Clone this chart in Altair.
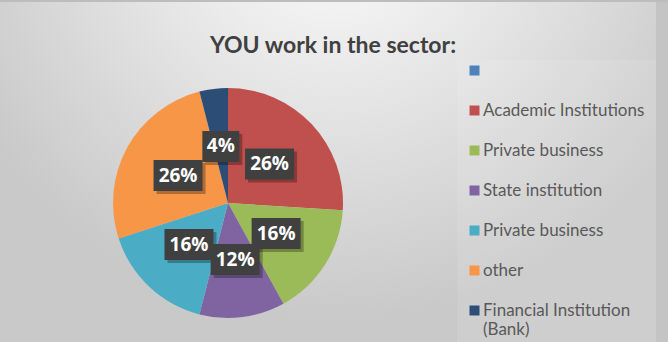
import altair as alt
import pandas as pd

categories = [" ", "Academic Institutions", "Private business", "State institution",
              "Private business ", "other", "Financial Institution (Bank)"]
values = [0, 26, 16, 12, 16, 26, 4]
colors = ["#4F81BD", "#C0504D", "#9BBB59", "#8064A2", "#4BACC6", "#F79646", "#2C4D75"]
title_text = ["YOU work in the sector:"]

df = pd.DataFrame({"cat": categories, "value": values, "idx": list(range(len(categories)))})
one = pd.DataFrame({"a": [0]})
tdf = pd.DataFrame({"t": title_text})

W = H = 230
R = 115
LABEL_R = 57
PL, PT = 113, 88
TOTAL_W, TOTAL_H = 668, 342

xs = alt.Scale(domain=[-R, R], nice=False, zero=False)
ys = alt.Scale(domain=[-R, R], nice=False, zero=False)

grad = {
    "gradient": "radial",
    "x1": 0.5, "y1": 0.1, "r1": 0,
    "x2": 0.5, "y2": 0.1, "r2": 0.62,
    "stops": [{"offset": 0, "color": "#ffffff"}, {"offset": 1, "color": "#c9c9c9"}],
}

bg = alt.Chart(one).mark_rect(fill=grad).encode(
    x=alt.value(-PL), x2=alt.value(TOTAL_W - PL),
    y=alt.value(-PT), y2=alt.value(TOTAL_H - PT),
)
panel = alt.Chart(one).mark_rect(fill="#ffffff", opacity=0.1).encode(
    x=alt.value(457 - PL), x2=alt.value(656 - PL),
    y=alt.value(60 - PT), y2=alt.value(TOTAL_H - PT),
)
strip = alt.Chart(one).mark_rect(fill="#c4c4c4").encode(
    x=alt.value(656 - PL), x2=alt.value(TOTAL_W - PL),
    y=alt.value(-PT), y2=alt.value(TOTAL_H - PT),
)
topline = alt.Chart(one).mark_rect(fill="#bdbdbd").encode(
    x=alt.value(-PL), x2=alt.value(TOTAL_W - PL),
    y=alt.value(-PT), y2=alt.value(2 - PT),
)

title = alt.Chart(tdf).mark_text(font="Lato", fontSize=23, fontWeight="bold", color="#404040",
                                 align="center", baseline="alphabetic").encode(
    x=alt.value(333 - PL), y=alt.value(53 - PT), text="t:N",
)

legend = alt.Legend(
    title=None, orient="none", legendX=353, legendY=-26,
    symbolType="square", symbolSize=100, symbolStrokeWidth=0,
    labelFont="Lato", labelFontSize=17, labelColor="#595959",
    labelLimit=400, labelOffset=0, rowPadding=22,
    labelExpr="datum.label == 'Financial Institution (Bank)' ? ['Financial Institution', '(Bank)'] : datum.label",
)

pie = alt.Chart(df).mark_arc(outerRadius=R).encode(
    theta=alt.Theta("value:Q", stack=True),
    color=alt.Color("cat:N", scale=alt.Scale(domain=categories, range=colors), legend=legend),
    order=alt.Order("idx:Q"),
)

lab = alt.Chart(df).transform_filter("datum.value > 0").transform_joinaggregate(
    total="sum(value)"
).transform_window(
    cum="sum(value)", sort=[alt.SortField("idx")], frame=[None, 0]
).transform_calculate(
    mid="datum.cum - datum.value / 2",
    ang="2 * PI * datum.mid / datum.total",
    lx=f"{LABEL_R} * sin(datum.ang)",
    ly=f"{LABEL_R} * cos(datum.ang)",
    pct="format(datum.value / datum.total, '.0%')",
    bw="12 * length(datum.pct) + 13",
    bx1="datum.lx - datum.bw / 2",
    bx2="datum.lx + datum.bw / 2",
    by1="datum.ly - 15.5",
    by2="datum.ly + 15.5",
)

shadow = lab.mark_rect(fill="#000000", opacity=0.28, xOffset=3, x2Offset=3, yOffset=3, y2Offset=3).encode(
    x=alt.X("bx1:Q", scale=xs, axis=None), x2="bx2:Q",
    y=alt.Y("by1:Q", scale=ys, axis=None), y2="by2:Q",
)
boxes = lab.mark_rect(fill="#404040").encode(
    x=alt.X("bx1:Q", scale=xs, axis=None), x2="bx2:Q",
    y=alt.Y("by1:Q", scale=ys, axis=None), y2="by2:Q",
)
texts = lab.mark_text(font="Open Sans", fontSize=19, fontWeight="bold", color="#ffffff",
                      baseline="middle", align="center").encode(
    x=alt.X("lx:Q", scale=xs, axis=None),
    y=alt.Y("ly:Q", scale=ys, axis=None),
    text="pct:N",
)

chart = alt.layer(bg, panel, strip, topline, title, pie, shadow, boxes, texts).properties(
    width=W, height=H,
    padding={"left": PL, "top": PT, "right": TOTAL_W - PL - W, "bottom": TOTAL_H - PT - H},
    autosize=alt.AutoSizeParams(type="none"),
    background="#d0d0d0",
).configure_view(stroke=None)

chart.save("out.html", embed_options={"renderer": "svg", "actions": False})
